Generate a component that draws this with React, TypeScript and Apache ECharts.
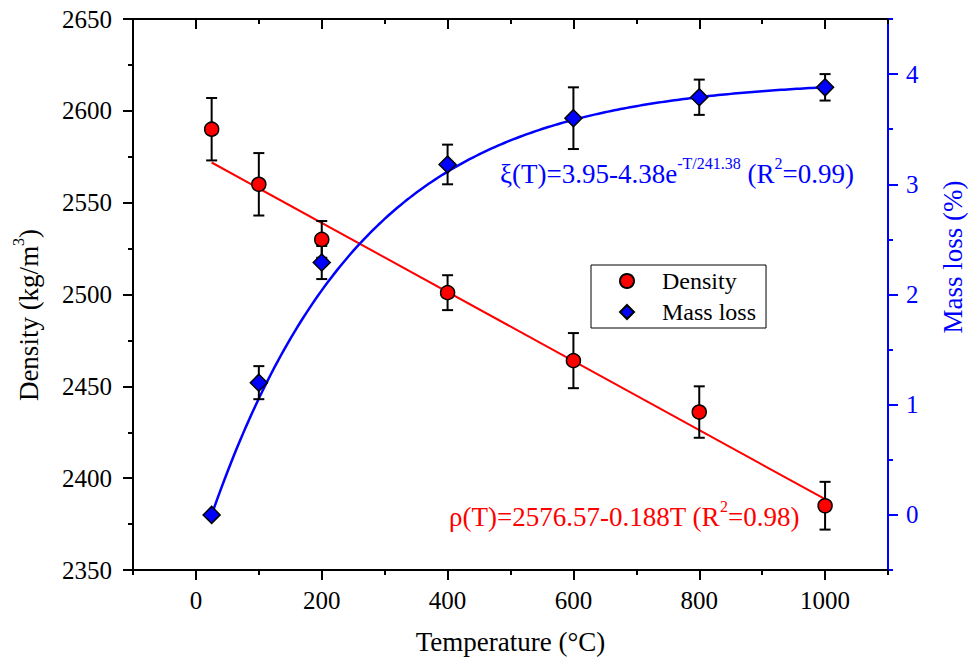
import React, { useEffect, useRef } from 'react';
import * as echarts from 'echarts';

// Measured points: temperature (°C), value, error half-width
const temperatures = [25, 100, 200, 400, 600, 800, 1000];
const densityValues = [2590, 2560, 2530, 2501, 2464, 2436, 2385];
const densityErrors = [17, 17, 10, 9.5, 15, 14, 13];
const massLossValues = [0, 1.2, 2.29, 3.18, 3.6, 3.79, 3.88];
const massLossErrors = [0, 0.15, 0.15, 0.18, 0.28, 0.16, 0.12];

// Fitted models (as printed on the chart)
const densityFit = { a: 2576.57, b: 0.188, r2: '0.98' };
const massLossFit = { a: 3.95, b: 4.38, tau: 241.38, r2: '0.99' };
const fitRange = [25, 1000];

// Axis scales
const xRange = [-100, 1100];
const xLabelRange = [0, 1000];
const xMajorStep = 200;
const xMinorStep = 100;
const densityRange = [2350, 2650];
const densityStep = 50;
const massRange = [-0.5, 4.5];
const massLabelRange = [0, 4];

const W = 978;
const H = 659;
const GRID = { left: 133, right: 90, top: 19, bottom: 89 };
const SERIF = 'Liberation Serif';
const RED = '#ff0000';
const BLUE = '#0000ff';

const densityAt = (t: number) => densityFit.a - densityFit.b * t;
const massLossAt = (t: number) => massLossFit.a - massLossFit.b * Math.exp(-t / massLossFit.tau);

function buildOption() {
  const plotW = W - GRID.left - GRID.right;
  const plotH = H - GRID.top - GRID.bottom;
  const xSpan = xRange[1] - xRange[0];
  const mSpan = massRange[1] - massRange[0];

  // Grid holding the labelled major x ticks (0..1000)
  const xMajorGrid = {
    left: GRID.left + ((xLabelRange[0] - xRange[0]) / xSpan) * plotW,
    right: GRID.right + ((xRange[1] - xLabelRange[1]) / xSpan) * plotW,
    top: GRID.top,
    bottom: GRID.bottom,
  };
  // Grid holding the labelled major mass-loss ticks (0..4)
  const massMajorGrid = {
    left: GRID.left,
    right: GRID.right,
    top: GRID.top + ((massRange[1] - massLabelRange[1]) / mSpan) * plotH,
    bottom: GRID.bottom + ((massLabelRange[0] - massRange[0]) / mSpan) * plotH,
  };

  const blackLine = { color: '#000', width: 2 };
  const blueLine = { color: BLUE, width: 2 };

  // Tick labels rendered through rich text so the serif face is applied
  const tickLabel = (color: string, margin: number) => ({
    margin,
    color,
    fontSize: 25,
    fontFamily: SERIF,
    formatter: (v: number) => `{t|${v}}`,
    rich: { t: { fontSize: 25, fontFamily: SERIF, color } },
  });

  const densityPoints = temperatures.map((t, i) => [t, densityValues[i]]);
  const massPoints = temperatures.map((t, i) => [t, massLossValues[i]]);
  const densityBars = temperatures.map((t, i) => [t, densityValues[i], densityErrors[i]]);
  const massBars = temperatures.map((t, i) => [t, massLossValues[i], massLossErrors[i]]);

  const densityFitLine = fitRange.map((t) => [t, densityAt(t)]);
  const massFitLine: number[][] = [];
  for (let t = fitRange[0]; t <= fitRange[1]; t += 5) massFitLine.push([t, massLossAt(t)]);

  const errorBarItem = (_params: any, api: any) => {
    const x = api.value(0);
    const y = api.value(1);
    const e = api.value(2);
    if (!e) return { type: 'group', children: [] };
    const hi = api.coord([x, y + e]);
    const lo = api.coord([x, y - e]);
    const cap = 5.5;
    const style = { stroke: '#000', lineWidth: 2 };
    return {
      type: 'group',
      children: [
        { type: 'line', shape: { x1: hi[0], y1: hi[1], x2: lo[0], y2: lo[1] }, style },
        { type: 'line', shape: { x1: hi[0] - cap, y1: hi[1], x2: hi[0] + cap, y2: hi[1] }, style },
        { type: 'line', shape: { x1: lo[0] - cap, y1: lo[1], x2: lo[0] + cap, y2: lo[1] }, style },
      ],
    };
  };

  const richFor = (color: string) => ({
    m: { fontSize: 27, lineHeight: 38, fontFamily: SERIF, fill: color },
    s: { fontSize: 16, lineHeight: 16, fontFamily: SERIF, fill: color, verticalAlign: 'top' },
  });

  const massLabel =
    `{m|ξ(T)=${massLossFit.a}-${massLossFit.b}e}{s|-T/${massLossFit.tau}}` +
    `{m| (R}{s|2}{m|=${massLossFit.r2})}`;
  const densityLabel =
    `{m|ρ(T)=${densityFit.a}-${densityFit.b}T (R}{s|2}{m|=${densityFit.r2})}`;

  return {
    animation: false,
    backgroundColor: '#fff',
    textStyle: { fontFamily: SERIF },
    grid: [
      { ...GRID, containLabel: false, outerBoundsMode: 'none' },
      { ...xMajorGrid, containLabel: false, outerBoundsMode: 'none' },
      { ...massMajorGrid, containLabel: false, outerBoundsMode: 'none' },
    ],
    xAxis: [
      {
        // bottom frame with every 100 °C tick
        type: 'value', gridIndex: 0, position: 'bottom',
        min: xRange[0], max: xRange[1], interval: xMinorStep,
        axisLine: { onZero: false, lineStyle: blackLine },
        axisTick: { length: 5, lineStyle: blackLine },
        axisLabel: { show: false },
        splitLine: { show: false },
      },
      {
        // top frame, ticks pointing inward
        type: 'value', gridIndex: 0, position: 'top',
        min: xRange[0], max: xRange[1], interval: xMinorStep,
        axisLine: { onZero: false, lineStyle: blackLine },
        axisTick: { inside: true, length: 5, lineStyle: blackLine },
        axisLabel: { show: false },
        splitLine: { show: false },
      },
      {
        // labelled major ticks
        type: 'value', gridIndex: 1, position: 'bottom',
        min: xLabelRange[0], max: xLabelRange[1], interval: xMajorStep,
        axisLine: { show: false, onZero: false },
        axisTick: { length: 10, lineStyle: blackLine },
        axisLabel: tickLabel('#000', 18),
        splitLine: { show: false },
        name: 'Temperature (°C)',
        nameLocation: 'middle',
        nameGap: 58,
        nameTextStyle: { fontSize: 27, fontFamily: SERIF, color: '#000' },
      },
      {
        type: 'value', gridIndex: 1, position: 'top',
        min: xLabelRange[0], max: xLabelRange[1], interval: xMajorStep,
        axisLine: { show: false, onZero: false },
        axisTick: { inside: true, length: 10, lineStyle: blackLine },
        axisLabel: { show: false },
        splitLine: { show: false },
      },
      { type: 'value', gridIndex: 2, show: false, min: 0, max: 1 },
    ],
    yAxis: [
      {
        type: 'value', gridIndex: 0, position: 'left',
        min: densityRange[0], max: densityRange[1], interval: densityStep,
        axisLine: { onZero: false, lineStyle: blackLine },
        axisTick: { length: 10, lineStyle: blackLine },
        minorTick: { show: true, splitNumber: 2, length: 5, lineStyle: blackLine },
        axisLabel: tickLabel('#000', 21),
        splitLine: { show: false },
        minorSplitLine: { show: false },
      },
      {
        type: 'value', gridIndex: 0, position: 'right',
        min: massRange[0], max: massRange[1], interval: 0.5,
        axisLine: { onZero: false, lineStyle: blueLine },
        axisTick: { length: 5, lineStyle: blueLine },
        axisLabel: { show: false },
        splitLine: { show: false },
      },
      {
        type: 'value', gridIndex: 2, position: 'right',
        min: massLabelRange[0], max: massLabelRange[1], interval: 1,
        axisLine: { show: false, onZero: false },
        axisTick: { length: 10, lineStyle: blueLine },
        axisLabel: tickLabel(BLUE, 18),
        splitLine: { show: false },
      },
      { type: 'value', gridIndex: 1, show: false, min: 0, max: 1 },
    ],
    legend: {
      data: ['Density', 'Mass loss'],
      orient: 'vertical',
      left: 591,
      top: 265,
      itemWidth: 14,
      itemHeight: 14,
      itemGap: 5,
      padding: [3, 10, 3, 28],
      borderColor: '#000',
      borderWidth: 1,
      backgroundColor: '#fff',
      textStyle: { fontSize: 24, lineHeight: 26, fontFamily: SERIF, color: '#000', padding: [0, 0, 0, 23] },
    },
    graphic: [
      {
        type: 'text', x: 500, y: 174, silent: true,
        style: { text: massLabel, rich: richFor(BLUE), fill: BLUE, align: 'left', verticalAlign: 'middle' },
      },
      {
        type: 'text', x: 449, y: 517, silent: true,
        style: { text: densityLabel, rich: richFor(RED), fill: RED, align: 'left', verticalAlign: 'middle' },
      },
      {
        type: 'text', x: 29, y: 315, rotation: Math.PI / 2, silent: true,
        style: {
          text: '{m|Density (kg/m}{s|3}{m|)}', rich: richFor('#000'), fill: '#000',
          align: 'center', verticalAlign: 'middle',
        },
      },
      {
        type: 'text', x: 953, y: 257, rotation: Math.PI / 2, silent: true,
        style: {
          text: 'Mass loss (%)', fill: BLUE, fontSize: 27, fontFamily: SERIF,
          align: 'center', verticalAlign: 'middle',
        },
      },
    ],
    series: [
      {
        name: 'Density fit', type: 'line', xAxisIndex: 0, yAxisIndex: 0,
        data: densityFitLine, showSymbol: false, symbol: 'none', silent: true, z: 1,
        lineStyle: { color: RED, width: 2 },
      },
      {
        name: 'Mass loss fit', type: 'line', xAxisIndex: 0, yAxisIndex: 1,
        data: massFitLine, showSymbol: false, symbol: 'none', silent: true, z: 1,
        lineStyle: { color: BLUE, width: 2.5 },
      },
      {
        name: 'Density error', type: 'custom', xAxisIndex: 0, yAxisIndex: 0,
        data: densityBars, renderItem: errorBarItem, encode: { x: 0, y: 1 }, z: 2, silent: true,
      },
      {
        name: 'Mass loss error', type: 'custom', xAxisIndex: 0, yAxisIndex: 1,
        data: massBars, renderItem: errorBarItem, encode: { x: 0, y: 1 }, z: 2, silent: true,
      },
      {
        name: 'Density', type: 'scatter', xAxisIndex: 0, yAxisIndex: 0,
        data: densityPoints, symbol: 'circle', symbolSize: 14, z: 3,
        itemStyle: { color: RED, borderColor: '#000', borderWidth: 1.5, opacity: 1 },
      },
      {
        name: 'Mass loss', type: 'scatter', xAxisIndex: 0, yAxisIndex: 1,
        data: massPoints, symbol: 'diamond', symbolSize: 17, z: 3,
        itemStyle: { color: BLUE, borderColor: '#000', borderWidth: 1.5, opacity: 1 },
      },
    ],
  };
}

export default function App() {
  const ref = useRef<HTMLDivElement>(null);

  useEffect(() => {
    document.body.style.margin = '0';
    if (!ref.current) return;
    const chart = echarts.init(ref.current, undefined, { renderer: 'svg', width: W, height: H });
    chart.setOption(buildOption() as any);
    return () => chart.dispose();
  }, []);

  return <div ref={ref} style={{ width: W, height: H, position: 'absolute', left: 0, top: 0 }} />;
}
